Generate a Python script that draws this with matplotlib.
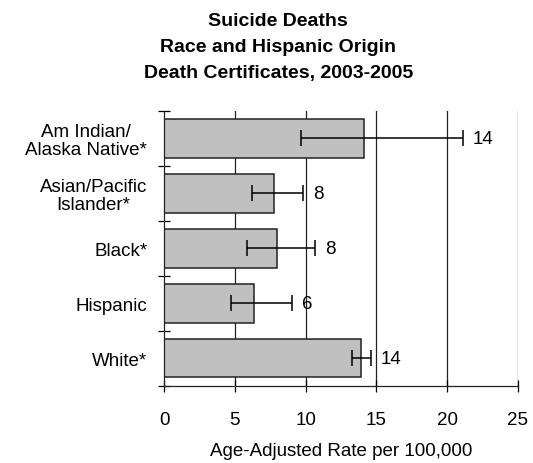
import numpy as np
import matplotlib
matplotlib.use("Agg")
import matplotlib.pyplot as plt

plt.rcParams["font.family"] = ["Liberation Sans", "DejaVu Sans"]

# data, top to bottom as drawn
groups = ["Am Indian/\nAlaska Native*", "Asian/Pacific\nIslander*", "Black*", "Hispanic", "White*"]
rates = [14.15, 7.8, 7.95, 6.35, 13.9]
ci_low = [9.7, 6.2, 5.85, 4.75, 13.3]
ci_high = [21.1, 9.85, 10.7, 9.05, 14.6]
labels = ["14", "8", "8", "6", "14"]

FS = 13.5

fig = plt.figure(figsize=(5.33, 4.64), dpi=100)
ax = fig.add_axes([0.3077, 0.1666, 0.664, 0.592])

y = np.arange(len(groups))[::-1]
for x in [5, 10, 15, 20, 25]:
    ax.axvline(x, color="#222222", lw=0.9, zorder=0)

ax.barh(y, rates, height=0.7, color="#c0c0c0", edgecolor="#222222", lw=1.1, zorder=2)
r = np.array(rates)
err = [r - np.array(ci_low), np.array(ci_high) - r]
ax.errorbar(rates, y, xerr=err, fmt="none", ecolor="black", elinewidth=1.1,
            capsize=6, capthick=1.1, zorder=3)
for yi, hi, lab in zip(y, ci_high, labels):
    ax.annotate(lab, (hi, yi), xytext=(7, 0), textcoords="offset points",
                ha="left", va="center", fontsize=FS, zorder=4)

ax.set_xlim(0, 25)
ax.set_ylim(-0.5, len(groups) - 0.5)
ax.set_xticks([0, 5, 10, 15, 20, 25])
ax.set_yticks(y)
ax.set_yticklabels(groups, multialignment="center", linespacing=1.05)
ax.set_yticks(np.arange(-0.5, len(groups)), minor=True)
ax.tick_params(axis="y", which="major", length=0, pad=12, labelsize=FS)
ax.tick_params(axis="y", which="minor", length=8, direction="inout", width=0.9)
ax.tick_params(axis="x", length=8, direction="inout", width=0.9, pad=14, labelsize=FS)
for side in ("top", "right"):
    ax.spines[side].set_visible(False)
for side in ("left", "bottom"):
    ax.spines[side].set_linewidth(0.9)
    ax.spines[side].set_color("#222222")

ax.set_xlabel("Age-Adjusted Rate per 100,000", fontsize=FS, labelpad=10)
fig.text(0.522, 0.972, "Suicide Deaths\nRace and Hispanic Origin\nDeath Certificates, 2003-2005",
         ha="center", va="top", fontsize=14, fontweight="bold", linespacing=1.68)

fig.savefig("out.png", dpi=100)
